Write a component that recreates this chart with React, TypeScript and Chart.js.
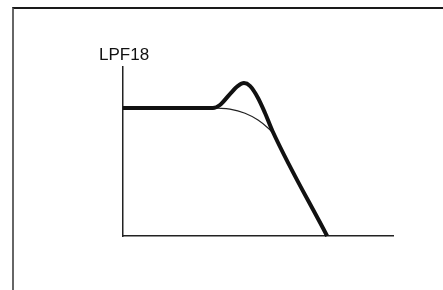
import React, { useEffect, useRef } from "react";
import { Chart, registerables } from "chart.js";

Chart.register(...registerables);

const titleText = "LPF18";
// Thick (resonant) response
const resX = [0, 33.3, 35.9, 39.6, 42.6, 44.8, 47, 50, 52.6, 55.4, 75.6];
const resY = [75.7, 75.7, 77.5, 84, 88.8, 90.5, 88.8, 81.7, 72.8, 62, 0];
// Thin (plain) response
const plainX = [33.3, 35.2, 39.6, 45.2, 50, 53.7, 55.6];
const plainY = [75.7, 75.6, 75.1, 72.6, 68.6, 63.9, 60.9];

const labelPlugin = {
  id: "cornerLabel",
  afterDraw(chart: any) {
    const { ctx, chartArea } = chart;
    ctx.save();
    ctx.fillStyle = "#111";
    ctx.font = "17px 'Liberation Sans', Arial, sans-serif";
    ctx.textBaseline = "alphabetic";
    ctx.textAlign = "left";
    ctx.fillText(titleText, chartArea.left - 24, chartArea.top - 7);
    ctx.restore();
  },
};

export default function App() {
  const ref = useRef<HTMLCanvasElement | null>(null);
  useEffect(() => {
    if (!ref.current) return;
    const chart = new Chart(ref.current, {
      type: "line",
      data: {
        datasets: [
          {
            data: resX.map((x, i) => ({ x, y: resY[i] })),
            borderColor: "#111",
            borderWidth: 4,
            pointRadius: 0,
            cubicInterpolationMode: "monotone",
            clip: false as any,
            order: 0,
          },
          {
            data: plainX.map((x, i) => ({ x, y: plainY[i] })),
            borderColor: "#222",
            borderWidth: 1.2,
            pointRadius: 0,
            cubicInterpolationMode: "monotone",
            order: 1,
          },
        ],
      },
      options: {
        animation: false,
        responsive: false,
        events: [],
        layout: { padding: { left: 123, right: 50, top: 67, bottom: 54 } },
        plugins: { legend: { display: false }, tooltip: { enabled: false }, title: { display: false } },
        scales: {
          x: {
            type: "linear",
            min: 0,
            max: 100,
            ticks: { display: false },
            grid: { display: false, drawTicks: false },
            border: { display: true, color: "#222", width: 1.5 },
          },
          y: {
            type: "linear",
            min: 0,
            max: 100,
            ticks: { display: false },
            grid: { display: false, drawTicks: false },
            border: { display: true, color: "#222", width: 1.5 },
          },
        },
      },
      plugins: [labelPlugin],
    });
    return () => chart.destroy();
  }, []);
  return (
    <div style={{ position: "fixed", left: 0, top: 0, width: 443, height: 290, background: "#fff" }}>
      <div
        style={{
          position: "absolute",
          left: 12,
          top: 7,
          right: 0,
          bottom: 0,
          borderTop: "2px solid #1a1a1a",
          borderLeft: "2px solid #666",
        }}
      />
      <canvas ref={ref} width={443} height={290} style={{ position: "absolute", left: 0, top: 0 }} />
    </div>
  );
}
